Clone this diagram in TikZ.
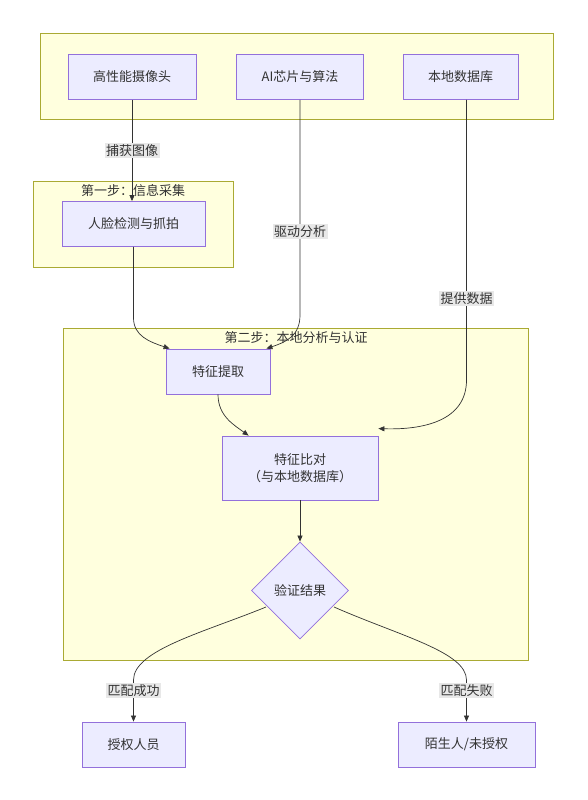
\documentclass[tikz,border=0pt]{standalone}
\usepackage{fontspec}
\setmainfont{Noto Sans CJK SC}
\usepackage{xcolor}
\usepackage{tikz}
\usetikzlibrary{shapes.geometric, arrows.meta, positioning}

\definecolor{nodefill}{HTML}{ECECFF}
\definecolor{nodeline}{HTML}{9370DB}
\definecolor{groupfill}{HTML}{FFFFDE}
\definecolor{groupline}{HTML}{AAAA33}
\definecolor{ink}{HTML}{333333}
\definecolor{tagfill}{HTML}{E8E8E8}

\begin{document}
\begin{tikzpicture}[
    x=1pt, y=-1pt,
    every node/.style={font=\fontsize{13}{16.5}\selectfont, text=ink},
    group/.style={rectangle, draw=groupline, fill=groupfill, line width=0.8pt},
    box/.style={rectangle, draw=nodeline, fill=nodefill, line width=0.8pt, minimum height=45pt, text centered, align=center},
    check/.style={diamond, draw=nodeline, fill=nodefill, line width=0.8pt, minimum width=97pt, minimum height=97pt, inner sep=0pt},
    grouptitle/.style={inner sep=1pt},
    edgetag/.style={fill=tagfill, inner sep=1.5pt},
    arrow/.style={-{Triangle[length=6pt, width=5pt]}, draw=ink, line width=0.7pt}
]
\useasboundingbox (0,0) rectangle (587,800);

% Groups
\node[group, minimum width=513pt, minimum height=86pt] (hardware) at (296.5,76) {};
\node[group, minimum width=200pt, minimum height=86pt] (stepone) at (133,224) {};
\node[group, minimum width=465pt, minimum height=332pt] (steptwo) at (295.5,494) {};
\node[grouptitle] (steponetitle) at (133,191) {第一步：信息采集};
\node[grouptitle] (steptwotitle) at (296,338) {第二步：本地分析与认证};

% Hardware
\node[box, minimum width=128pt] (camera) at (132,77) {高性能摄像头};
\node[box, minimum width=127pt] (chip) at (300,77) {AI芯片与算法};
\node[box, minimum width=115pt] (database) at (460.5,77) {本地数据库};

% Step one
\node[box, minimum width=143pt] (detect) at (133.5,224) {人脸检测与抓拍};

% Step two
\node[box, minimum width=104pt] (extract) at (218,371.5) {特征提取};
\node[box, minimum width=156pt, minimum height=64pt] (compare) at (300,468) {特征比对\\（与本地数据库）};
\node[check] (result) at (300,590.5) {验证结果};

% Outcomes
\node[box, minimum width=103pt] (granted) at (133.5,744.5) {授权人员};
\node[box, minimum width=137pt] (stranger) at (466.5,744.5) {陌生人/未授权};

% Connectors
\draw[arrow] (camera.south) -- node[edgetag, pos=0.5] (capturetag) {捕获图像} (detect.north -| camera.south);
\draw[arrow] (detect.south) -- (133.5,318) .. controls (133.5,336) and (150,342) .. ([xshift=4pt]extract.north west);
\draw[arrow] (chip.south) -- node[edgetag, pos=0.61] (drivetag) {驱动分析} (300,315) .. controls (300,336) and (286,342) .. ([xshift=-4pt]extract.north east);
\draw[arrow] ([xshift=6pt]database.south) -- node[edgetag, pos=0.71] (feedtag) {提供数据} (466.5,380) .. controls (466.5,420) and (425,430) .. ([yshift=7pt]compare.north east);
\draw[arrow] (extract.south) .. controls (218,416) and (234,425) .. ([xshift=27pt]compare.north west);
\draw[arrow] (compare.south) -- (result.north);
\draw[arrow] (266,607) .. controls (205,632) and (133.5,650) .. (133.5,680) -- node[edgetag, pos=0.25] (matchtag) {匹配成功} (granted.north);
\draw[arrow] (334,607) .. controls (400,636) and (466.5,652) .. (466.5,680) -- node[edgetag, pos=0.25] (failtag) {匹配失败} (stranger.north);

\end{tikzpicture}
\end{document}
